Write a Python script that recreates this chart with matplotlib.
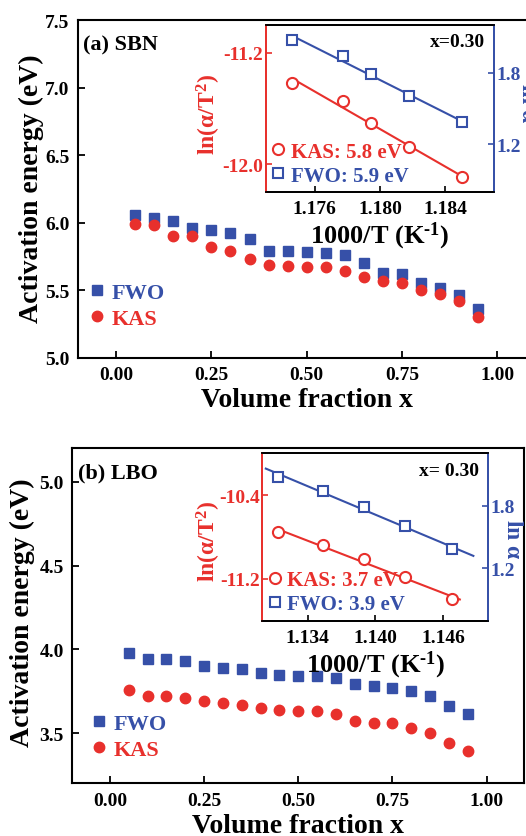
import numpy as np
import matplotlib
matplotlib.use('Agg')
import matplotlib.pyplot as plt

plt.rcParams.update({
    'font.family': 'Liberation Serif',
    'font.weight': 'bold',
    'axes.labelweight': 'bold',
    'axes.unicode_minus': False,
    'mathtext.fontset': 'custom',
    'mathtext.rm': 'Liberation Serif:bold',
    'mathtext.it': 'Liberation Serif:bold',
    'mathtext.bf': 'Liberation Serif:bold',
    'xtick.direction': 'in',
    'ytick.direction': 'in',
})

RED = '#e8302c'
BLUE = '#3650a8'

# volume fraction
vol_frac = [0.05, 0.10, 0.15, 0.20, 0.25, 0.30, 0.35, 0.40, 0.45, 0.50,
            0.55, 0.60, 0.65, 0.70, 0.75, 0.80, 0.85, 0.90, 0.95]

# (a) SBN activation energy
sbn_fwo = [6.058, 6.035, 6.016, 5.964, 5.944, 5.922, 5.883, 5.791, 5.791, 5.781,
           5.780, 5.762, 5.700, 5.629, 5.621, 5.555, 5.515, 5.466, 5.365]
sbn_kas = [5.989, 5.981, 5.902, 5.900, 5.821, 5.791, 5.730, 5.690, 5.680, 5.671,
           5.670, 5.641, 5.601, 5.572, 5.552, 5.503, 5.473, 5.424, 5.301]

# (b) LBO activation energy
lbo_fwo = [3.979, 3.941, 3.941, 3.931, 3.901, 3.889, 3.881, 3.857, 3.849, 3.842,
           3.842, 3.831, 3.791, 3.779, 3.771, 3.752, 3.719, 3.662, 3.611]
lbo_kas = [3.759, 3.719, 3.719, 3.710, 3.689, 3.680, 3.670, 3.650, 3.640, 3.629,
           3.629, 3.611, 3.570, 3.560, 3.560, 3.530, 3.500, 3.440, 3.392]

# insets at x = 0.30
sbn_invT = [1.17463, 1.17772, 1.17943, 1.18178, 1.18503]
sbn_ln_kas = [-11.417, -11.549, -11.701, -11.878, -12.095]
sbn_ln_fwo = [2.075, 1.943, 1.789, 1.604, 1.385]

lbo_invT = [1.13139, 1.13534, 1.13897, 1.14262, 1.14681]
lbo_ln_kas = [-10.752, -10.879, -11.014, -11.184, -11.392]
lbo_ln_fwo = [2.078, 1.940, 1.787, 1.605, 1.382]

fig = plt.figure(figsize=(5.26, 8.37), dpi=100)


def main_panel(rect, fwo, kas, ylim, yticks, tag, ylab_xy, leg_xy):
    ax = fig.add_axes(rect)
    ax.plot(vol_frac, fwo, 's', color=BLUE, ms=7, label='FWO')
    ax.plot(vol_frac, kas, 'o', color=RED, ms=7.5, label='KAS')
    ax.set_xlim(-0.1, 1.1)
    ax.set_ylim(*ylim)
    ax.set_xticks([0, 0.25, 0.5, 0.75, 1.0])
    ax.set_xticklabels(['0.00', '0.25', '0.50', '0.75', '1.00'])
    ax.set_yticks(yticks)
    ax.set_yticklabels([f'{v:.1f}' for v in yticks])
    ax.tick_params(labelsize=14, width=1.3, length=5, pad=6)
    for s in ax.spines.values():
        s.set_linewidth(1.5)
    ax.set_xlabel('Volume fraction x', fontsize=20, labelpad=3)
    ax.set_ylabel('Activation energy (eV)', fontsize=20)
    ax.yaxis.set_label_coords(*ylab_xy)
    ax.text(0.012, 0.958, tag, transform=ax.transAxes, fontsize=16,
            fontweight='bold', va='top', ha='left')
    ax.legend(loc='center left', bbox_to_anchor=leg_xy, frameon=False,
              fontsize=16, handlelength=0.7, handletextpad=0.3,
              labelspacing=0.25, borderaxespad=0, borderpad=0,
              labelcolor='markerfacecolor')
    return ax


def inset(rect, invT, ln_kas, ln_fwo, xlim, xticks, ylim_l, yticks_l,
          ylim_r, yticks_r, e_kas, e_fwo, xtxt, line_l, line_r,
          lab_l, lab_r):
    ax = fig.add_axes(rect)
    ax2 = ax.twinx()
    # linear fits
    p1 = np.polyfit(invT, ln_kas, 1)
    p2 = np.polyfit(invT, ln_fwo, 1)
    xx1 = np.array(line_l)
    xx2 = np.array(line_r)
    ax.plot(xx1, np.polyval(p1, xx1), color=RED, lw=1.5)
    ax2.plot(xx2, np.polyval(p2, xx2), color=BLUE, lw=1.5)
    h1, = ax.plot(invT, ln_kas, 'o', mfc='white', mec=RED, mew=1.5, ms=8,
                  label=f'KAS: {e_kas} eV')
    h2, = ax2.plot(invT, ln_fwo, 's', mfc='white', mec=BLUE, mew=1.5, ms=7.5,
                   label=f'FWO: {e_fwo} eV')
    ax.set_xlim(*xlim)
    ax.set_ylim(*ylim_l)
    ax2.set_ylim(*ylim_r)
    ax.set_xticks(xticks)
    ax.set_xticklabels([f'{v:.3f}' for v in xticks])
    ax.set_yticks(yticks_l)
    ax.set_yticklabels([f'{v:.1f}' for v in yticks_l])
    ax2.set_yticks(yticks_r)
    ax2.set_yticklabels([f'{v:.1f}' for v in yticks_r])
    ax.tick_params(axis='x', labelsize=14, width=1.2, length=4, pad=6)
    ax.tick_params(axis='y', labelsize=14, colors=RED, width=1.2, length=4, pad=2)
    ax2.tick_params(axis='y', labelsize=14, colors=BLUE, width=1.2, length=4, pad=2)
    for s in ax.spines.values():
        s.set_linewidth(1.3)
    for s in ax2.spines.values():
        s.set_linewidth(1.3)
    ax2.spines['left'].set_color(RED)
    ax2.spines['right'].set_color(BLUE)
    ax.spines['left'].set_color(RED)
    ax.spines['right'].set_color(BLUE)
    ax.set_xlabel(r'1000/T (K$^{\text{-1}}$)', fontsize=19, labelpad=2)
    ax.set_ylabel(r'ln($\alpha$/T$^{\rm 2}$)', fontsize=17, color=RED)
    ax.yaxis.set_label_coords(*lab_l)
    ax2.set_ylabel(r'ln $\alpha$', fontsize=17, color=BLUE, rotation=270,
                   va='bottom')
    ax2.yaxis.set_label_coords(*lab_r)
    ax.text(0.96, 0.95, xtxt, transform=ax.transAxes, fontsize=14,
            fontweight='bold', ha='right', va='top')
    ax2.legend([h1, h2], [h1.get_label(), h2.get_label()],
               loc='lower left', frameon=False, fontsize=15,
               handlelength=0.6, handletextpad=0.3, labelspacing=0.2,
               borderaxespad=0.2, borderpad=0.1,
               labelcolor=[RED, BLUE])
    return ax


# axes rectangles in figure fraction
main_panel([0.1483, 0.5711, 0.8696, 0.4038], sbn_fwo, sbn_kas, (5.0, 7.5),
           [5.0, 5.5, 6.0, 6.5, 7.0, 7.5], '(a) SBN',
           (-0.075, 0.503), (0.025, 0.154))
main_panel([0.1376, 0.0630, 0.8589, 0.4002], lbo_fwo, lbo_kas, (3.2, 5.2),
           [3.5, 4.0, 4.5, 5.0], '(b) LBO',
           (-0.082, 0.511), (0.042, 0.140))

inset([0.5053, 0.7694, 0.4338, 0.1995], sbn_invT, sbn_ln_kas, sbn_ln_fwo,
      (1.173, 1.187), [1.176, 1.180, 1.184], (-12.2, -11.0), [-12.0, -11.2],
      (0.8, 2.2), [1.2, 1.8], '5.8', '5.9', 'x=0.30',
      [1.1746, 1.1852], [1.1746, 1.1852], (-0.188, 0.47), (1.10, 0.54))
inset([0.4989, 0.2572, 0.4289, 0.2000], lbo_invT, lbo_ln_kas, lbo_ln_fwo,
      (1.130, 1.150), [1.134, 1.140, 1.146], (-11.6, -10.0), [-11.2, -10.4],
      (0.7, 2.3), [1.2, 1.8], '3.7', '3.9', 'x= 0.30',
      [1.1314, 1.1475], [1.1303, 1.1487], (-0.174, 0.48), (1.061, 0.494))

fig.savefig('out.png', dpi=100, facecolor='white')
